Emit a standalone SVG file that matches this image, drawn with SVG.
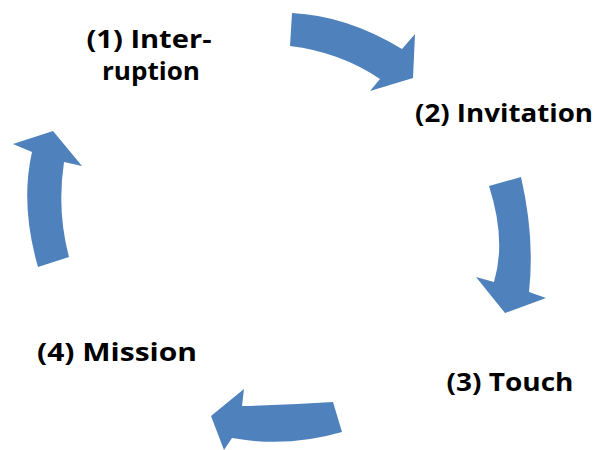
<svg xmlns="http://www.w3.org/2000/svg" width="600" height="450" viewBox="0 0 600 450">
<style>
.arrow{fill:#4F81BD;stroke:none}
.lbl{font-family:"Open Sans","Liberation Sans",sans-serif;font-weight:bold;font-size:25px;fill:#000;text-anchor:middle}
</style>
<rect width="600" height="450" fill="#fff"/>
<g id="connectors">
<path id="arrow1" class="arrow" d="M292,13 Q347,15.6 402,49 L415,34 L413,78 L370,91 L380,79 Q340,52 290,46 Z"/>
<path id="arrow2" class="arrow" d="M489,186 L521,177 Q535,237.5 529,292 L546,298 L505,313 L476,277 L494,282 Q506.5,240 489,186 Z"/>
<path id="arrow3" class="arrow" d="M333,402 Q287,405 242,406 L244,389 L211,416 L224,450 L232,438 Q287,448 342,432 Z"/>
<path id="arrow4" class="arrow" d="M38,267 L69,257 Q56.7,210.6 64,162 L82,166 L53,131 L13,144 L32,152 Q20,205 38,267 Z"/>
</g>
<g id="node1"><text class="lbl" x="149" y="48" textLength="125" lengthAdjust="spacingAndGlyphs">(1) Inter-</text><text class="lbl" x="151" y="80" textLength="98" lengthAdjust="spacingAndGlyphs">ruption</text></g>
<g id="node2"><text class="lbl" x="504" y="122" textLength="178" lengthAdjust="spacingAndGlyphs">(2) Invitation</text></g>
<g id="node3"><text class="lbl" x="510" y="391" textLength="127" lengthAdjust="spacingAndGlyphs">(3) Touch</text></g>
<g id="node4"><text class="lbl" x="117" y="361" textLength="160" lengthAdjust="spacingAndGlyphs">(4) Mission</text></g>
</svg>
